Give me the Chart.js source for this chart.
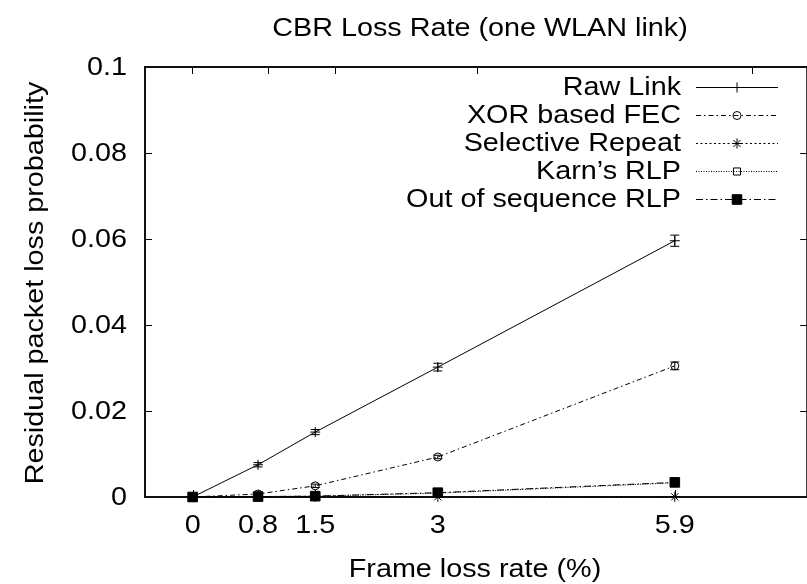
<!DOCTYPE html>
<html><head><meta charset="utf-8">
<script src="https://cdn.jsdelivr.net/npm/chart.js@4/dist/chart.umd.min.js"></script>
<style>
html,body{margin:0;padding:0;background:#fff;overflow:hidden;width:807px;height:584px;}
#wrap{position:absolute;left:0;top:0;width:815px;height:584px;}
canvas{display:block;}
</style></head><body>
<div id="wrap"><canvas id="c" width="815" height="584" style="width:815px;height:584px"></canvas></div>
<script>
// ---- data ----
const frameLoss = [0, 0.8, 1.5, 3, 5.9];
const xTickLabels = ['0', '0.8', '1.5', '3', '5.9'];
const yTicks = [0, 0.02, 0.04, 0.06, 0.08, 0.1];
const yTickLabels = ['0', '0.02', '0.04', '0.06', '0.08', '0.1'];
const seriesNames = ['Raw Link', 'XOR based FEC', 'Selective Repeat', "Karn\u2019s RLP", 'Out of sequence RLP'];
const rawLink = [0, 0.0075, 0.0151, 0.0302, 0.0596];
const rawLinkErr = [0, 0.0005, 0.0006, 0.0009, 0.0013];
const xorFec = [0, 0.0007, 0.0026, 0.0093, 0.0305];
const xorFecErr = [0, 0.0003, 0.0004, 0.0004, 0.0009];
const selectiveRepeat = [0, 0.00002, 0.00003, 0.00004, 0.00005];
const karnRlp = [0, 0.0001, 0.0002, 0.0009, 0.0033];
const outOfSeqRlp = [0, 0.0001, 0.0002, 0.0010, 0.0034];
const titleText = 'CBR Loss Rate (one WLAN link)';
const xTitle = 'Frame loss rate (%)';
const yTitle = 'Residual packet loss probability';

const FONT = '25px "Liberation Sans", Arial, Helvetica, sans-serif';
const SX = 1.15;
function txt(ctx, s, x, y, align, baseline, rot) {
  ctx.save();
  ctx.translate(x, y);
  if (rot) ctx.rotate(rot);
  ctx.scale(SX, 1);
  ctx.font = FONT; ctx.fillStyle = '#000';
  ctx.textAlign = align; ctx.textBaseline = baseline;
  ctx.fillText(s, 0, 0);
  ctx.restore();
}
function pts(arr) { return frameLoss.map((x, i) => ({x: x, y: arr[i]})); }

function drawMarker(ctx, style, x, y, r, fill) {
  ctx.beginPath();
  if (style === 'cross') {
    ctx.moveTo(x - r, y); ctx.lineTo(x + r, y); ctx.moveTo(x, y - r); ctx.lineTo(x, y + r); ctx.stroke();
  } else if (style === 'star') {
    ctx.moveTo(x - r, y); ctx.lineTo(x + r, y); ctx.moveTo(x, y - r); ctx.lineTo(x, y + r);
    const d = r * Math.SQRT1_2;
    ctx.moveTo(x - d, y - d); ctx.lineTo(x + d, y + d); ctx.moveTo(x - d, y + d); ctx.lineTo(x + d, y - d); ctx.stroke();
  } else if (style === 'circle') {
    ctx.arc(x, y, r, 0, Math.PI * 2); if (fill) ctx.fill(); ctx.stroke();
  } else if (style === 'rect') {
    const s = r * Math.SQRT1_2;
    ctx.rect(x - s, y - s, 2 * s, 2 * s); if (fill) ctx.fill(); ctx.stroke();
  }
}

const framePlugin = {
  id: 'frame',
  beforeDatasetsDraw(chart) {
    const {ctx, chartArea: a, scales} = chart;
    const xs = scales.x, x2 = scales.x2, ys = scales.y;
    ctx.save();
    ctx.strokeStyle = '#000'; ctx.lineWidth = 1;
    const TL = 7;
    ctx.beginPath();
    yTicks.forEach(v => {
      const py = Math.round(ys.getPixelForValue(v)) + 0.5;
      ctx.moveTo(a.left, py); ctx.lineTo(a.left + TL, py);
      ctx.moveTo(a.right, py); ctx.lineTo(a.right - TL, py);
    });
    frameLoss.forEach(v => {
      const px = Math.round(xs.getPixelForValue(v)) + 0.5;
      ctx.moveTo(px, a.bottom); ctx.lineTo(px, a.bottom - TL);
      const qx = Math.round(x2.getPixelForValue(v)) + 0.5;
      ctx.moveTo(qx, a.top); ctx.lineTo(qx, a.top + TL);
    });
    ctx.stroke();
    ctx.lineWidth = 2; ctx.strokeStyle = '#111';
    ctx.strokeRect(a.left, a.top, a.right - a.left, a.bottom - a.top);
    // tick labels
    yTicks.forEach((v, i) => txt(ctx, yTickLabels[i], 127, ys.getPixelForValue(v) + 1.5, 'right', 'middle'));
    frameLoss.forEach((v, i) => txt(ctx, xTickLabels[i], xs.getPixelForValue(v), 526, 'center', 'middle'));
    // titles
    txt(ctx, titleText, 480, 29, 'center', 'middle');
    txt(ctx, xTitle, 475, 570, 'center', 'middle');
    txt(ctx, yTitle, 36, 283, 'center', 'middle', -Math.PI / 2);
    ctx.restore();
  },
  afterDatasetsDraw(chart) {
    const {ctx, scales} = chart;
    const xs = scales.x, ys = scales.y;
    ctx.save();
    ctx.strokeStyle = '#000'; ctx.lineWidth = 1; ctx.fillStyle = '#000';
    // error bars
    chart.data.datasets.forEach(ds => {
      if (!ds.errors) return;
      ds.data.forEach((p, i) => {
        const e = ds.errors[i]; if (!e) return;
        const px = xs.getPixelForValue(p.x);
        const y1 = ys.getPixelForValue(p.y + e), y2 = ys.getPixelForValue(p.y - e);
        ctx.beginPath();
        ctx.moveTo(px, y1); ctx.lineTo(px, y2);
        ctx.moveTo(px - 4.5, y1); ctx.lineTo(px + 4.5, y1);
        ctx.moveTo(px - 4.5, y2); ctx.lineTo(px + 4.5, y2);
        ctx.stroke();
      });
    });
    // legend
    chart.data.datasets.forEach((ds, i) => {
      const y = 87 + i * 28;
      txt(ctx, ds.label, 681, y + 1.5, 'right', 'middle');
      ctx.save();
      ctx.setLineDash(ds.borderDash || []);
      ctx.beginPath(); ctx.moveTo(696, Math.round(y) + 0.5); ctx.lineTo(778, Math.round(y) + 0.5); ctx.stroke();
      ctx.restore();
      ctx.setLineDash([]);
      ctx.fillStyle = ds.pointBackgroundColor;
      drawMarker(ctx, ds.pointStyle, 737, Math.round(y) + 0.5, ds.pointRadius, ds.pointBackgroundColor !== 'rgba(0,0,0,0)');
    });
    ctx.restore();
  }
};

function ds(label, arr, style, radius, dash, fillCol, order, errs) {
  return {
    label: label, data: pts(arr), errors: errs || null,
    borderColor: '#000', borderWidth: 1, borderDash: dash,
    pointStyle: style, pointRadius: radius, pointBorderColor: '#000', pointBorderWidth: 1,
    pointBackgroundColor: fillCol, backgroundColor: fillCol,
    fill: false, tension: 0, clip: false, order: order
  };
}

new Chart(document.getElementById('c'), {
  type: 'line',
  data: {
    datasets: [
      ds(seriesNames[0], rawLink, 'cross', 5, [], 'rgba(0,0,0,0)', 5, rawLinkErr),
      ds(seriesNames[1], xorFec, 'circle', 4, [5, 3, 1.5, 3], 'rgba(0,0,0,0)', 4, xorFecErr),
      ds(seriesNames[2], selectiveRepeat, 'star', 5, [2, 2.5], 'rgba(0,0,0,0)', 3),
      ds(seriesNames[3], karnRlp, 'rect', 5, [1, 1.5], 'rgba(0,0,0,0)', 2),
      ds(seriesNames[4], outOfSeqRlp, 'rect', 6.8, [7, 3, 1.5, 3], '#000', 1)
    ]
  },
  options: {
    responsive: false, animation: false, devicePixelRatio: 1,
    layout: {padding: {left: 145, top: 67, bottom: 87, right: 2}},
    plugins: {legend: {display: false}, title: {display: false}, tooltip: {enabled: false}},
    events: [],
    scales: {
      x: {type: 'linear', position: 'bottom', min: -0.583, max: 7.52, display: false},
      x2: {type: 'linear', position: 'top', min: -0.5, max: 6.48, display: false},
      y: {type: 'linear', min: 0, max: 0.1, display: false}
    }
  },
  plugins: [framePlugin]
});
</script>
</body></html>
